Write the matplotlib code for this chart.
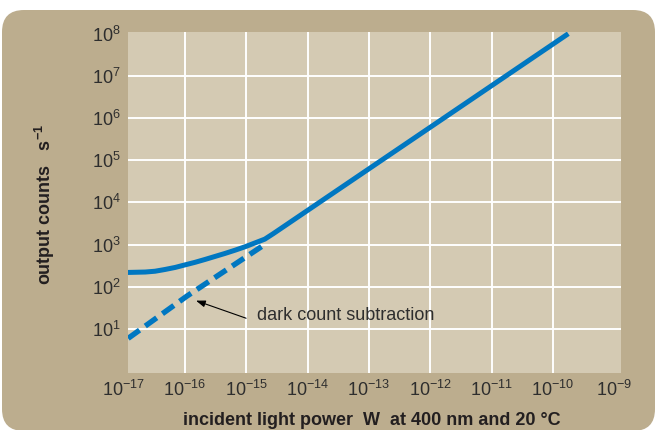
import matplotlib
matplotlib.use("Agg")
import matplotlib.pyplot as plt
import numpy as np
from matplotlib.patches import FancyBboxPatch

plt.rcParams["font.family"] = ["Liberation Sans", "DejaVu Sans"]
plt.rcParams["mathtext.default"] = "regular"

# values (power in W, counts in 1/s)
measured_power = [1.17e-17, 2.24e-17, 3.24e-17, 4.68e-17, 6.92e-17, 1.0e-16,
                  1.45e-16, 2.14e-16, 3.09e-16, 4.47e-16, 6.61e-16, 9.55e-16,
                  1.38e-15, 2.0e-15, 2.75e-15, 1.78e-10]
measured_counts = [219, 224, 234, 257, 288, 331, 380, 447, 525, 617, 741, 891,
                   1096, 1349, 1820, 1.0e8]

corrected_power = [1.18e-17, 1.07e-16, 2.1e-15]
corrected_counts = [6.0, 60, 1060]

x_exponents = list(range(-17, -8))
y_exponents = list(range(1, 9))
x_grid = list(range(-16, -9))
y_grid = list(range(1, 8))

annotation = "dark count subtraction"
xlabel = "incident light power  W  at 400 nm and 20 °C"
ylabel = "output counts   s$^{-1}$"

OUTER = "#bcad8e"
INNER = "#d4cab3"
BLUE = "#0077c1"
TEXT = "#2e2e2e"

fig = plt.figure(figsize=(6.56, 4.30), dpi=100)

# rounded tan panel behind everything
bg = fig.add_axes([0, 0, 1, 1], zorder=0)
bg.set_xlim(0, 656)
bg.set_ylim(430, 0)
bg.axis("off")
bg.add_patch(FancyBboxPatch((2, 10), 653, 421, boxstyle="round,pad=0,rounding_size=22",
                            facecolor=OUTER, edgecolor="none"))

ax = fig.add_axes([128 / 656, (430 - 372.7) / 430, 493 / 656, 340.7 / 430], zorder=1)
ax.set_facecolor(INNER)
ax.set_xscale("log")
ax.set_yscale("log")
ax.set_xlim(10 ** -16.93, 10 ** -8.89)
ax.set_ylim(10 ** -0.036, 10 ** 8.04)
for s in ax.spines.values():
    s.set_visible(False)

for e in x_grid:
    ax.axvline(10.0 ** e, color="white", lw=1.4, zorder=1)
for e in y_grid:
    ax.axhline(10.0 ** e, color="white", lw=1.4, zorder=1)

ax.plot(corrected_power, corrected_counts, color=BLUE, lw=3.9, dashes=(2.6, 1.3),
        dash_capstyle="butt", zorder=3)
ax.plot(measured_power, measured_counts, color=BLUE, lw=3.6, solid_capstyle="butt",
        solid_joinstyle="round", zorder=4)

ax.annotate("", xy=(1.51e-16, 47), xytext=(9.9e-16, 18),
            arrowprops=dict(arrowstyle="-|>,head_length=0.55,head_width=0.2",
                            color="black", lw=0.8, shrinkA=0, shrinkB=0))
ax.text(1.48e-15, 16.3, annotation, fontsize=13, color=TEXT, va="baseline", ha="left")

ax.set_xticks([])
ax.set_yticks([10.0 ** e for e in y_exponents])
ax.set_yticklabels([r"$\mathdefault{10^{%d}}$" % e for e in y_exponents])
ax.tick_params(axis="y", length=0, pad=5.5, labelsize=13, labelcolor=TEXT)
ax.minorticks_off()

xt = ax.get_xaxis_transform()
for e in x_exponents:
    ax.text(10.0 ** e, -0.021, r"$\mathdefault{10^{%d}}$" % e, transform=xt,
            ha="center", va="top", fontsize=13, color=TEXT, clip_on=False)

fig.text(372 / 656, 5 / 430, xlabel, ha="center", va="baseline", fontsize=13,
         fontweight="bold", color="#231f20")
fig.text(45 / 656, 1 - 204 / 430, ylabel, ha="center", va="center", rotation=90,
         fontsize=13, fontweight="bold", color="#231f20")

fig.savefig("out.png", dpi=100)
